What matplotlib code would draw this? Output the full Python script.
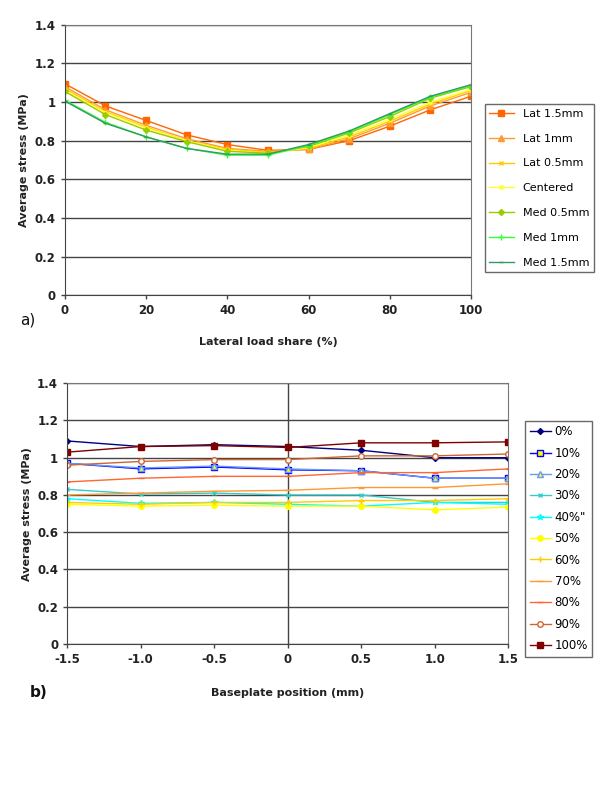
import matplotlib
matplotlib.use('Agg')
import matplotlib.pyplot as plt

# top chart: lateral load share (%)
load_share = [0, 10, 20, 30, 40, 50, 60, 70, 80, 90, 100]
lat_15 = [1.095, 0.98, 0.905, 0.83, 0.78, 0.75, 0.755, 0.80, 0.875, 0.96, 1.03]
lat_10 = [1.08, 0.96, 0.88, 0.81, 0.76, 0.745, 0.755, 0.81, 0.89, 0.98, 1.05]
lat_05 = [1.07, 0.95, 0.87, 0.80, 0.755, 0.74, 0.76, 0.82, 0.90, 0.99, 1.06]
centered = [1.06, 0.945, 0.865, 0.80, 0.75, 0.735, 0.765, 0.83, 0.91, 1.00, 1.065]
med_05 = [1.055, 0.935, 0.855, 0.795, 0.745, 0.735, 0.77, 0.84, 0.925, 1.02, 1.08]
med_10 = [1.01, 0.895, 0.82, 0.76, 0.725, 0.725, 0.775, 0.845, 0.935, 1.025, 1.085]
med_15 = [1.005, 0.89, 0.82, 0.76, 0.73, 0.73, 0.78, 0.85, 0.94, 1.03, 1.09]
top_names = ['Lat 1.5mm', 'Lat 1mm', 'Lat 0.5mm', 'Centered',
             'Med 0.5mm', 'Med 1mm', 'Med 1.5mm']

# bottom chart: baseplate position (mm)
position = [-1.5, -1.0, -0.5, 0, 0.5, 1.0, 1.5]
pos_labels = ['-1.5', '-1.0', '-0.5', '0', '0.5', '1.0', '1.5']
s0 = [1.09, 1.06, 1.07, 1.06, 1.04, 1.00, 1.00]
s10 = [0.97, 0.94, 0.95, 0.935, 0.93, 0.89, 0.89]
s20 = [0.97, 0.945, 0.955, 0.94, 0.93, 0.89, 0.89]
s30 = [0.83, 0.805, 0.81, 0.80, 0.80, 0.76, 0.76]
s40 = [0.78, 0.755, 0.76, 0.75, 0.74, 0.76, 0.75]
s50 = [0.75, 0.74, 0.745, 0.74, 0.74, 0.72, 0.735]
s60 = [0.76, 0.75, 0.76, 0.76, 0.77, 0.77, 0.78]
s70 = [0.80, 0.81, 0.82, 0.825, 0.84, 0.84, 0.86]
s80 = [0.87, 0.89, 0.90, 0.90, 0.92, 0.92, 0.94]
s90 = [0.96, 0.98, 0.99, 0.99, 1.01, 1.01, 1.02]
s100 = [1.03, 1.06, 1.065, 1.055, 1.08, 1.08, 1.085]
bottom_names = ['0%', '10%', '20%', '30%', '40%"', '50%', '60%', '70%', '80%', '90%', '100%']

plt.rcParams['font.family'] = ['DejaVu Sans']

fig = plt.figure(figsize=(6, 8), dpi=100)


def style_axes(ax):
    ax.set_ylim(0, 1.4)
    ax.set_yticks([0, 0.2, 0.4, 0.6, 0.8, 1.0, 1.2, 1.4])
    ax.set_yticklabels(['0', '0.2', '0.4', '0.6', '0.8', '1', '1.2', '1.4'])
    ax.yaxis.grid(True, color='#444444', linewidth=1.0)
    ax.set_axisbelow(True)
    for side in ['top', 'right']:
        ax.spines[side].set_color('#777777')
    for side in ['left', 'bottom']:
        ax.spines[side].set_color('#444444')
    ax.tick_params(labelsize=8.5, length=3, color='#444444', width=1)
    for lab in ax.get_xticklabels() + ax.get_yticklabels():
        lab.set_fontweight('bold')
        lab.set_color('#222222')
    ax.set_ylabel('Average stress (MPa)', fontsize=8, fontweight='bold', color='#222222')


# ---- top chart
ax1 = fig.add_axes([0.108, 0.631, 0.677, 0.338])
top_series = [lat_15, lat_10, lat_05, centered, med_05, med_10, med_15]
top_colors = ['#FF6600', '#FF9933', '#FFCC00', '#FFFF33', '#99CC00', '#33FF33', '#339966']
top_markers = ['s', '^', 'x', 'o', 'D', '+', '_']
top_msize = [4, 4, 3, 2.5, 3, 4, 3]
top_lines = []
for vals, c, m, ms, name in zip(top_series, top_colors, top_markers, top_msize, top_names):
    ln, = ax1.plot(load_share, vals, color=c, marker=m, markersize=ms, linewidth=1.0, label=name)
    top_lines.append(ln)
ax1.set_xlim(0, 100)
ax1.set_xticks([0, 20, 40, 60, 80, 100])
style_axes(ax1)
ax1.set_xlabel('Lateral load share (%)', fontsize=8, fontweight='bold', color='#222222', labelpad=14)
leg1 = fig.legend(loc='lower left', bbox_to_anchor=(0.808, 0.66, 0.182, 0.2175), mode='expand',
                  fontsize=8, frameon=True, fancybox=False, edgecolor='#444444',
                  handlelength=2.2, borderaxespad=0, labelspacing=1.33,
                  handles=top_lines)
leg1.get_frame().set_linewidth(1.0)

# ---- bottom chart
ax2 = fig.add_axes([0.112, 0.195, 0.735, 0.326])
bottom_series = [s0, s10, s20, s30, s40, s50, s60, s70, s80, s90, s100]
bottom_colors = ['#000080', '#0000FF', '#6699FF', '#33CCCC', '#00FFFF', '#FFFF00',
                 '#FFCC00', '#FF9933', '#FF6633', '#CC6633', '#800000']
bottom_markers = ['D', 's', '^', 'x', '*', 'o', '+', '_', '_', 'o', 's']
bottom_msize = [3, 5, 4, 3, 4, 4, 5, 4, 4, 4, 5]
bottom_mfc = ['#000080', '#FFFF00', '#FFFF00', '#33CCCC', '#00FFFF', '#FFFF00',
              '#FFCC00', '#FF9933', '#FF6633', 'white', '#800000']
bottom_lines = []
for vals, c, m, ms, fc, name in zip(bottom_series, bottom_colors, bottom_markers,
                                    bottom_msize, bottom_mfc, bottom_names):
    ln, = ax2.plot(position, vals, color=c, marker=m, markersize=ms, markerfacecolor=fc,
                   linewidth=1.0, label=name)
    bottom_lines.append(ln)
ax2.axvline(0, color='#444444', linewidth=1.0, zorder=0)
ax2.set_xlim(-1.5, 1.5)
ax2.set_xticks(position)
ax2.set_xticklabels(pos_labels)
style_axes(ax2)
ax2.set_xlabel('Baseplate position (mm)', fontsize=8, fontweight='bold', color='#222222', labelpad=16)
leg2 = fig.legend(loc='lower left', bbox_to_anchor=(0.875, 0.179, 0.112, 0.295), mode='expand',
                  fontsize=8.5, frameon=True, fancybox=False, edgecolor='#444444',
                  handlelength=1.8, handletextpad=0.3, borderaxespad=0, labelspacing=0.71,
                  handles=bottom_lines)
leg2.get_frame().set_linewidth(1.0)

fig.text(0.033, 0.594, 'a)', fontsize=11, color='#111111')
fig.text(0.05, 0.129, 'b)', fontsize=11, fontweight='bold', color='#111111')

fig.savefig('out.png', dpi=100)
